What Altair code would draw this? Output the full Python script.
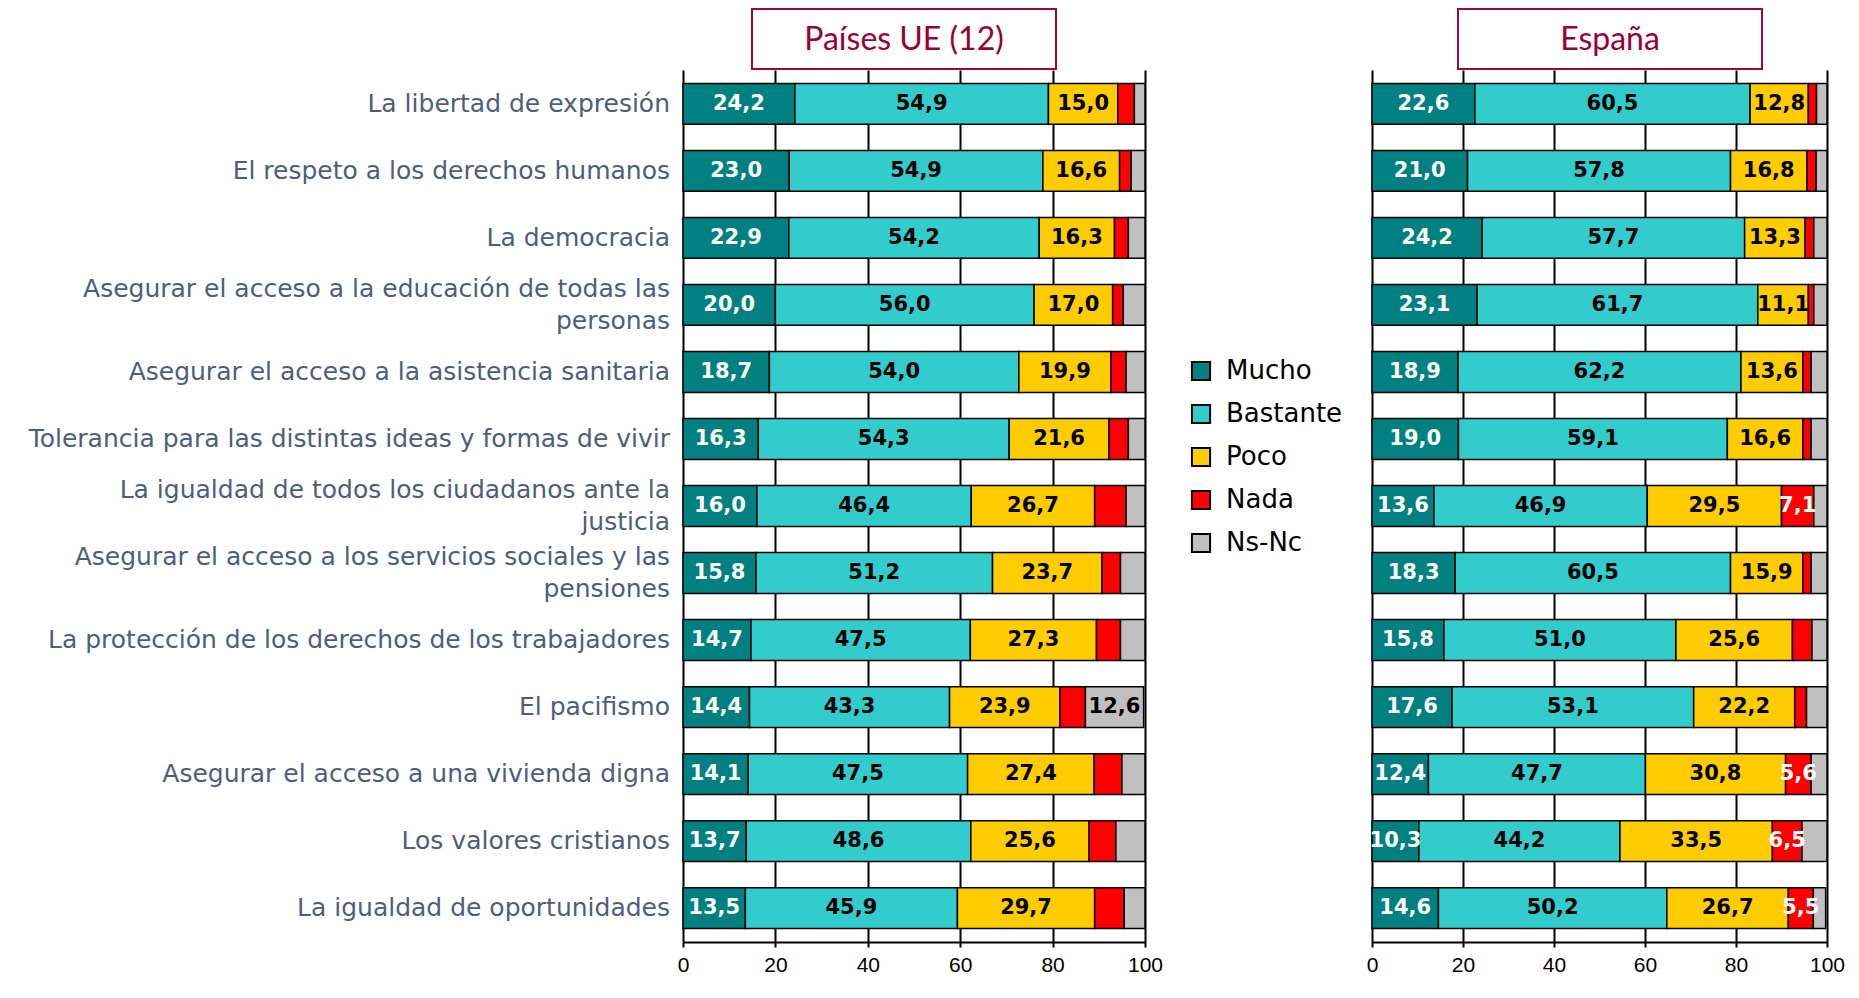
import altair as alt
import pandas as pd

categories = [
    "La libertad de expresión",
    "El respeto a los derechos humanos",
    "La democracia",
    "Asegurar el acceso a la educación de todas las personas",
    "Asegurar el acceso a la asistencia sanitaria",
    "Tolerancia para las distintas ideas y formas de vivir",
    "La igualdad de todos los ciudadanos ante la justicia",
    "Asegurar el  acceso a los servicios sociales y las pensiones",
    "La protección de los derechos de los trabajadores",
    "El pacifismo",
    "Asegurar el acceso a una vivienda digna",
    "Los valores cristianos",
    "La igualdad de oportunidades",
]
# label line breaks
wrapped = {
    "Asegurar el acceso a la educación de todas las personas":
        ["Asegurar el acceso a la educación de todas las", "personas"],
    "La igualdad de todos los ciudadanos ante la justicia":
        ["La igualdad de todos los ciudadanos ante la", "justicia"],
    "Asegurar el  acceso a los servicios sociales y las pensiones":
        ["Asegurar el  acceso a los servicios sociales y las", "pensiones"],
}

series = ["Mucho", "Bastante", "Poco", "Nada", "Ns-Nc"]
colors = ["#008080", "#33CCCC", "#FFCC00", "#FF0000", "#C0C0C0"]

ue_mucho = [24.2, 23.0, 22.9, 20.0, 18.7, 16.3, 16.0, 15.8, 14.7, 14.4, 14.1, 13.7, 13.5]
ue_bastante = [54.9, 54.9, 54.2, 56.0, 54.0, 54.3, 46.4, 51.2, 47.5, 43.3, 47.5, 48.6, 45.9]
ue_poco = [15.0, 16.6, 16.3, 17.0, 19.9, 21.6, 26.7, 23.7, 27.3, 23.9, 27.4, 25.6, 29.7]
ue_nada = [3.6, 2.5, 3.0, 2.3, 3.3, 4.2, 6.8, 4.0, 5.2, 5.5, 6.0, 5.8, 6.4]
ue_nsnc = [2.3, 3.0, 3.6, 4.7, 4.1, 3.6, 4.1, 5.3, 5.3, 12.6, 5.0, 6.3, 4.5]

es_mucho = [22.6, 21.0, 24.2, 23.1, 18.9, 19.0, 13.6, 18.3, 15.8, 17.6, 12.4, 10.3, 14.6]
es_bastante = [60.5, 57.8, 57.7, 61.7, 62.2, 59.1, 46.9, 60.5, 51.0, 53.1, 47.7, 44.2, 50.2]
es_poco = [12.8, 16.8, 13.3, 11.1, 13.6, 16.6, 29.5, 15.9, 25.6, 22.2, 30.8, 33.5, 26.7]
es_nada = [1.8, 2.0, 1.9, 1.2, 1.8, 1.8, 7.1, 1.8, 4.3, 2.6, 5.6, 6.5, 5.5]
es_nsnc = [2.3, 2.4, 2.9, 2.9, 3.5, 3.5, 2.9, 3.5, 3.3, 4.5, 3.5, 5.5, 2.7]

# which small segments carry a printed value
ue_labeled_small = [("El pacifismo", "Ns-Nc")]
es_labeled_small = [
    ("La igualdad de todos los ciudadanos ante la justicia", "Nada"),
    ("Asegurar el acceso a una vivienda digna", "Nada"),
    ("Los valores cristianos", "Nada"),
    ("La igualdad de oportunidades", "Nada"),
]


def build(vals, labeled_small):
    rows = []
    for s_i, (s, arr) in enumerate(zip(series, vals)):
        for c, v in zip(categories, arr):
            show = s in ("Mucho", "Bastante", "Poco") or (c, s) in labeled_small
            rows.append({
                "cat": c, "serie": s, "value": v, "order": s_i,
                "label": f"{v:.1f}".replace(".", ",") if show else "",
            })
    return pd.DataFrame(rows)


ue_df = build([ue_mucho, ue_bastante, ue_poco, ue_nada, ue_nsnc], ue_labeled_small)
es_df = build([es_mucho, es_bastante, es_poco, es_nada, es_nsnc], es_labeled_small)

# category label tables (one text per line)
single_df = pd.DataFrame({"cat": [c for c in categories if c not in wrapped]})
single_df["line"] = single_df["cat"]
first_df = pd.DataFrame({"cat": list(wrapped), "line": [v[0] for v in wrapped.values()]})
second_df = pd.DataFrame({"cat": list(wrapped), "line": [v[1] for v in wrapped.values()]})

H = 872
TITLE_COLOR = "#990033"
LABEL_COLOR = "#4e5d7c"

legend = alt.Legend(
    title=None, orient="none", legendX=505, legendY=288, padding=0,
    labelFont="DejaVu Sans", labelFontSize=26, labelColor="black",
    symbolType="square", symbolSize=330, symbolStrokeColor="black",
    symbolStrokeWidth=2, rowPadding=15, labelOffset=12,
)

yscale = alt.Scale(domain=categories, paddingInner=0.39, paddingOuter=0.2)


def cat_labels(df, dy):
    return alt.Chart(df).mark_text(
        font="DejaVu Sans", fontSize=25, color=LABEL_COLOR, align="right",
        baseline="middle", dx=-13, dy=dy,
    ).encode(x=alt.value(0), y=alt.Y("cat:N", scale=yscale), text="line:N")


def panel(df, title, box_x, show_y, width):
    base = alt.Chart(df).transform_stack(
        stack="value", groupby=["cat"], sort=[alt.SortField("order", "ascending")],
        as_=["x0", "x1"],
    ).transform_calculate(mid="(datum.x0 + datum.x1) / 2")

    if show_y:
        yaxis = alt.Axis(title=None, ticks=False, domain=False, labels=False,
                         minExtent=675, maxExtent=675)
    else:
        yaxis = None
    y = alt.Y("cat:N", scale=yscale, axis=yaxis)

    xaxis = alt.Axis(
        title=None, values=[0, 20, 40, 60, 80, 100], grid=True, gridColor="black",
        gridWidth=2, gridOpacity=1, domainColor="black", domainWidth=2,
        tickColor="black", tickWidth=2, tickSize=5, labelFont="Liberation Sans",
        labelFontSize=21, labelColor="black", labelPadding=7, labelFlush=False,
    )

    bars = base.mark_bar(stroke="black", strokeWidth=1.5).encode(
        x=alt.X("x0:Q", scale=alt.Scale(domain=[0, 100], nice=False), axis=xaxis),
        x2="x1:Q",
        y=y,
        color=alt.Color("serie:N", scale=alt.Scale(domain=series, range=colors),
                        legend=legend, sort=series),
    )
    texts = base.transform_filter("datum.label != ''").mark_text(
        font="DejaVu Sans", fontWeight="bold", fontSize=21, baseline="middle",
        align="center",
    ).encode(
        x="mid:Q",
        y=alt.Y("cat:N", scale=yscale),
        text="label:N",
        color=alt.condition("datum.serie == 'Mucho' || datum.serie == 'Nada'",
                            alt.value("white"), alt.value("black")),
    )
    tdf = pd.DataFrame({"t": [title]})
    box = alt.Chart(tdf).mark_rect(fill="white", stroke="#9b0a3c", strokeWidth=2).encode(
        x=alt.value(box_x), x2=alt.value(box_x + 304),
        y=alt.value(-61), y2=alt.value(-1),
    )
    ttext = alt.Chart(tdf).mark_text(
        font="Lato", fontSize=32, color=TITLE_COLOR, baseline="middle", align="center",
    ).encode(x=alt.value(box_x + 152), y=alt.value(-30), text="t:N")
    layers = [bars, texts, box, ttext]
    if show_y:
        layers += [cat_labels(single_df, 0), cat_labels(first_df, -16),
                   cat_labels(second_df, 16)]
    return alt.layer(*layers).properties(width=width, height=H)


eu = panel(ue_df, "Países UE (12)", 69, True, 462)
es = panel(es_df, "España", 86, False, 455)

chart = alt.hconcat(eu, es, spacing=203).configure_view(stroke=None).properties(
    padding={"left": 0, "top": 0, "right": 0, "bottom": 0}
)

chart.save("out.html", embed_options={"renderer": "svg", "actions": False})
